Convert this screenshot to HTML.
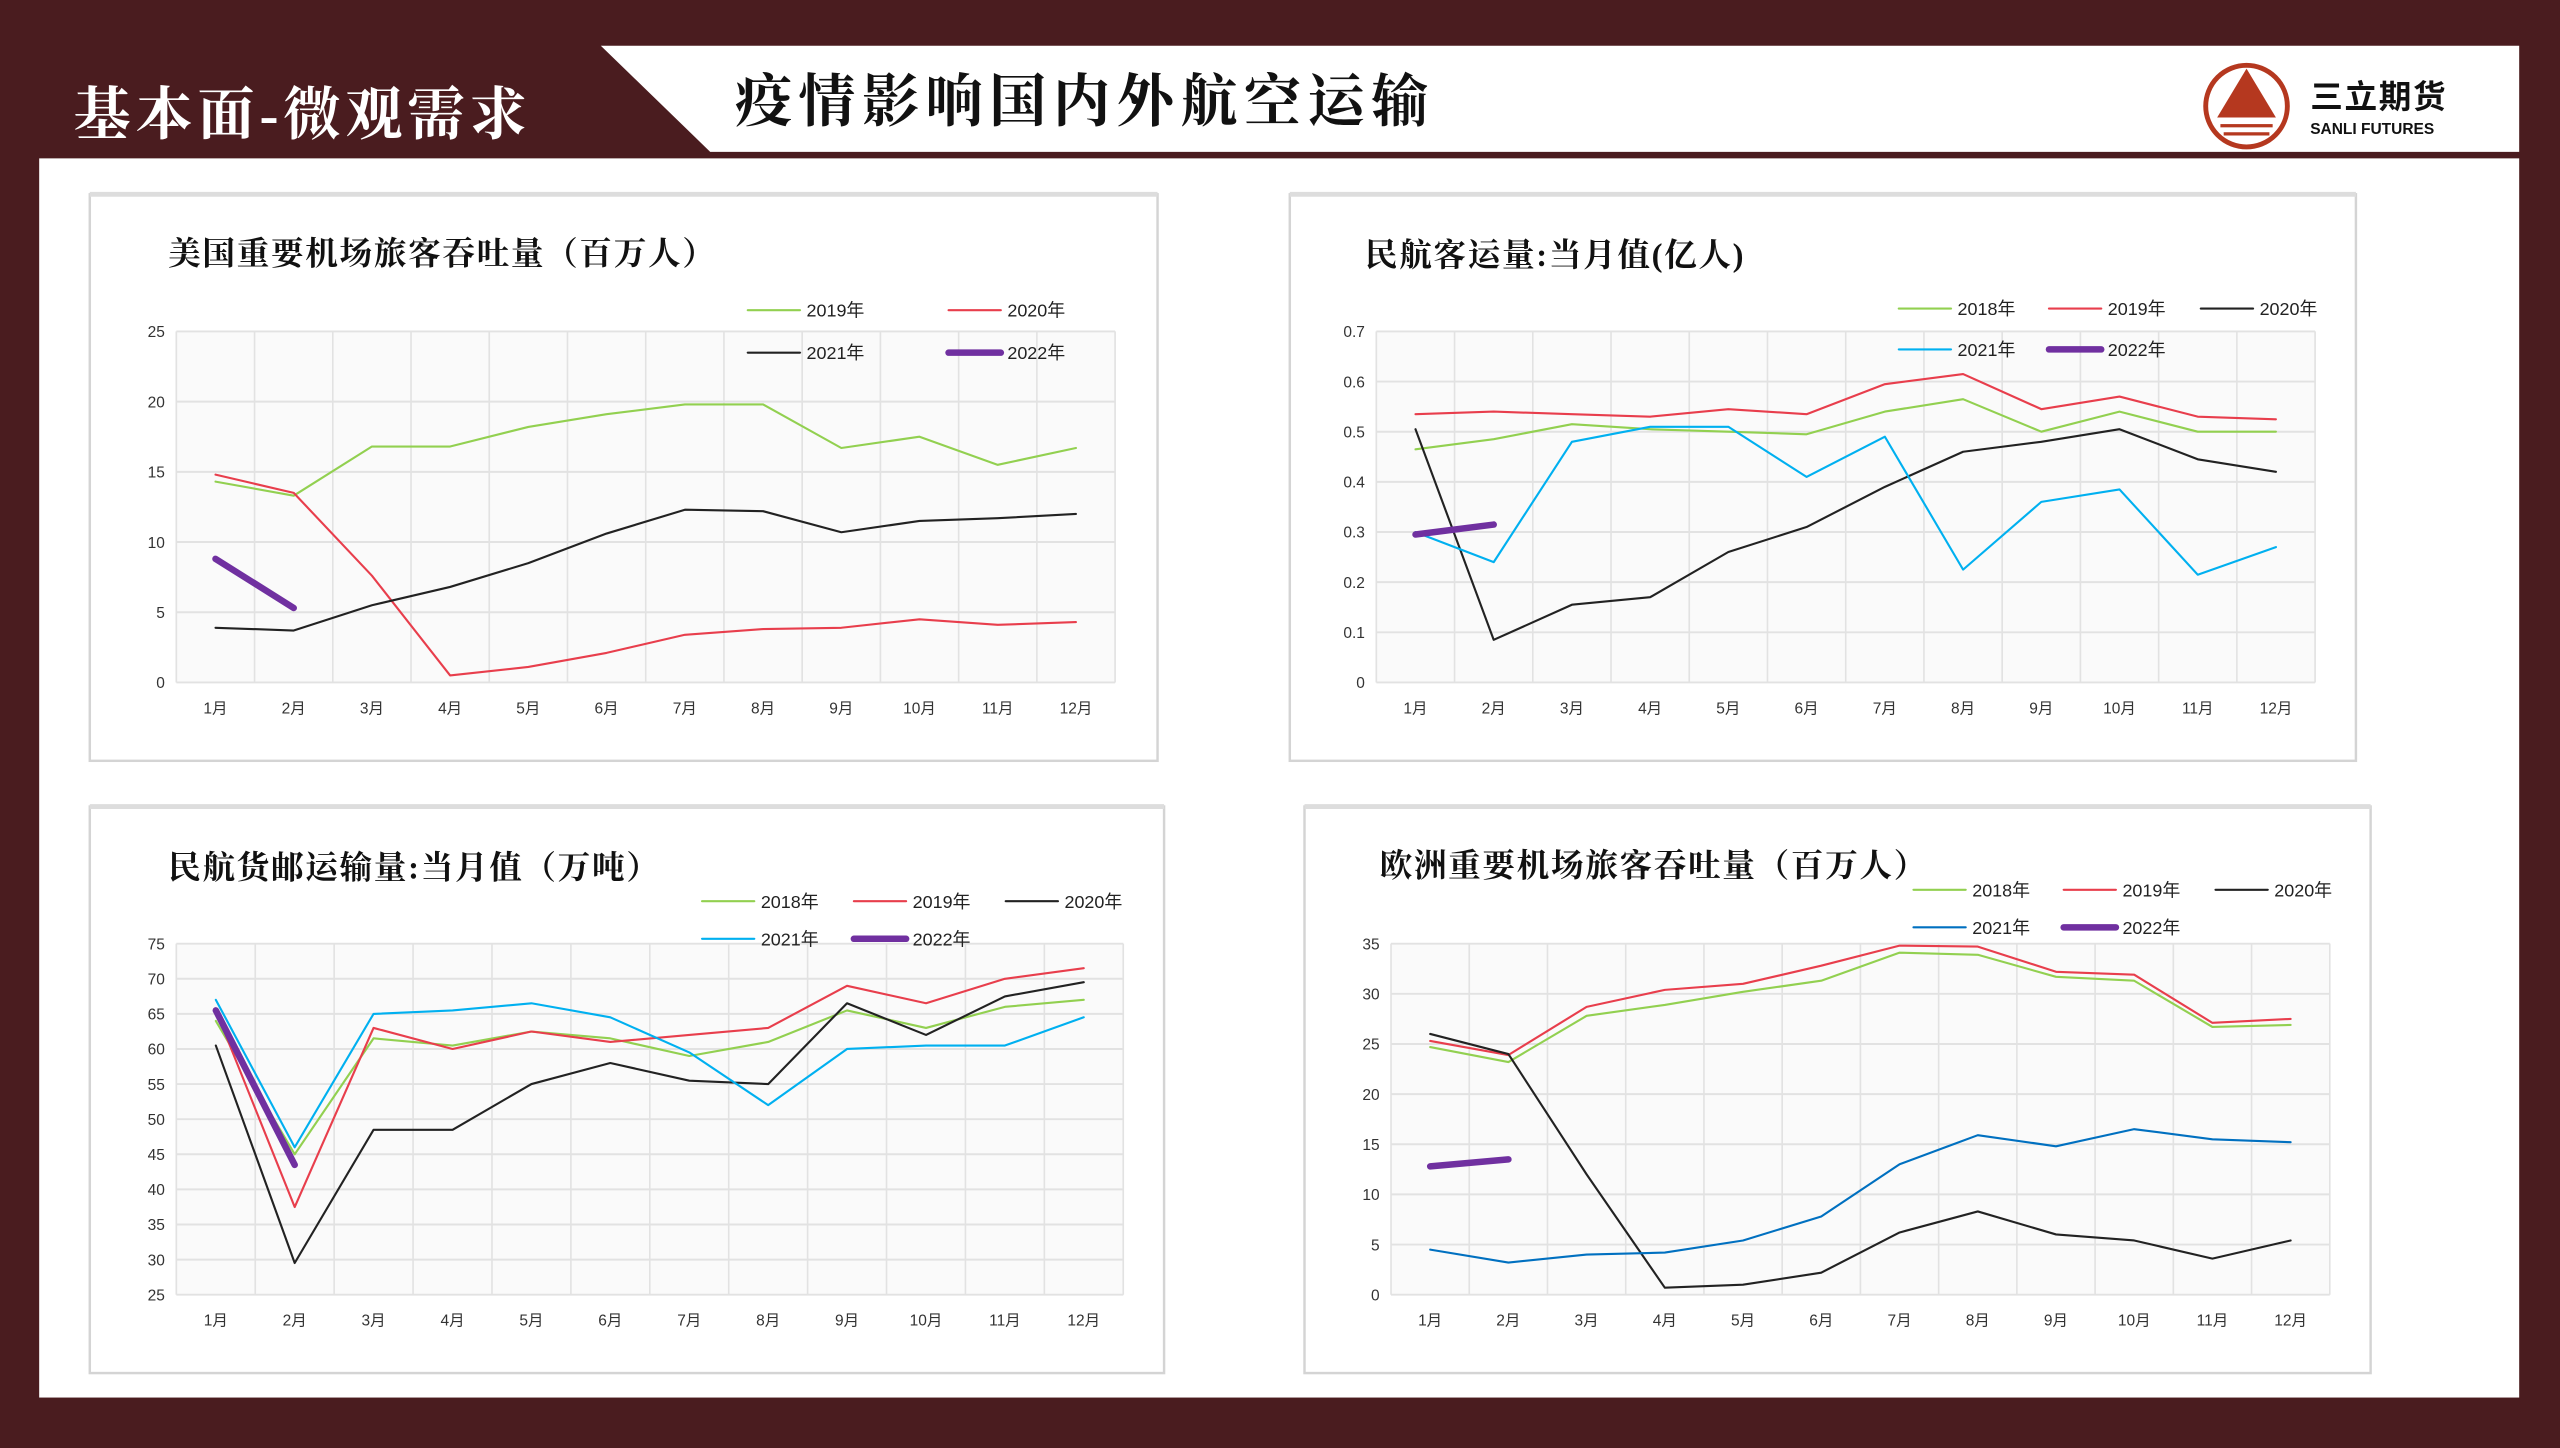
<!DOCTYPE html>
<html><head><meta charset="utf-8">
<style>
html,body{margin:0;padding:0;width:2560px;height:1440px;overflow:hidden;background:#4a1c1f;}
#wrap{position:absolute;left:0;top:0;width:1568px;height:882px;transform:scale(1.632653);transform-origin:0 0;font-family:"Liberation Sans","Noto Sans CJK SC",sans-serif;}
svg text{font-family:"Liberation Sans","Noto Sans CJK SC",sans-serif;}
svg text.sf{font-family:"Liberation Serif","Noto Serif CJK SC",serif;}
</style></head><body>
<div id="wrap">
<svg id="s" width="1568" height="882" xmlns="http://www.w3.org/2000/svg">
<rect width="1568" height="882" fill="#4a1c1f"/>
<polygon points="368,28 1543,28 1543,93 435,93" fill="#fff"/>
<rect x="24" y="97" width="1519" height="759" fill="#fff"/>
<text class="sf" x="45" y="82" font-size="35" fill="#fff" font-weight="bold" letter-spacing="3">基本面-微观需求</text>
<text class="sf" x="450" y="74" font-size="35" fill="#111" font-weight="bold" letter-spacing="4">疫情影响国内外航空运输</text>
<circle cx="1376" cy="65" r="25" fill="none" stroke="#b5381f" stroke-width="3"/>
<polygon points="1376,42 1358,72 1394,72" fill="#b5381f"/>
<rect x="1360" y="76" width="32" height="2" fill="#b5381f"/><rect x="1362" y="81" width="28" height="2" fill="#b5381f"/>
<text x="1415" y="66" font-size="20" font-weight="bold" fill="#111" letter-spacing="1">三立期货</text>
<text x="1415" y="82" font-size="9.5" font-weight="bold" fill="#111">SANLI FUTURES</text>
</svg>
</div>
<script>
var s=document.getElementById('s'),NS='http://www.w3.org/2000/svg';
function el(t,a,txt){var e=document.createElementNS(NS,t);for(var k in a)e.setAttribute(k,a[k]);if(txt!=null)e.textContent=txt;s.appendChild(e);return e;}
var G='#92d050',R='#e83e4c',K='#222',B1='#00b0f0',B2='#0070c0',P='#7030a0';
function chart(c){
 el('rect',{x:c.px,y:c.py+1,width:c.pw,height:c.ph,fill:'#fff',stroke:'#d4d4d4','stroke-width':1.5});
 el('line',{x1:c.px,y1:c.py+1,x2:c.px+c.pw,y2:c.py+1,stroke:'#ddd','stroke-width':3});
 el('text',{x:c.tx,y:c.ty,'font-size':20,'font-weight':'bold',fill:'#111','class':'sf','letter-spacing':1},c.title);
 var x0=c.x0,x1=c.x1,y0=c.y0,y1=c.y1,n=c.ticks.length-1;
 el('rect',{x:x0,y:y0,width:x1-x0,height:y1-y0,fill:'#fafafa'});
 var cw=(x1-x0)/12;
 for(var i=0;i<=12;i++)el('line',{x1:x0+i*cw,y1:y0,x2:x0+i*cw,y2:y1,stroke:'#e2e2e2','stroke-width':1});
 c.ticks.forEach(function(t,i){var y=y1-(y1-y0)*i/n;el('line',{x1:x0,y1:y,x2:x1,y2:y,stroke:'#e2e2e2','stroke-width':1.2});
  el('text',{x:x0-7,y:y+3.5,'font-size':9.5,'text-anchor':'end',fill:'#333'},t);});
 for(var i=0;i<12;i++)el('text',{x:x0+cw*(i+.5),y:y1+19,'font-size':9.5,'text-anchor':'middle',fill:'#333'},(i+1)+'月');
 var lo=c.ticks[0],hi=c.ticks[n];
 c.series.forEach(function(se){var pts=se.d.map(function(v,i){return (x0+cw*(i+.5)).toFixed(1)+','+(y1-(v-lo)/(hi-lo)*(y1-y0)).toFixed(1)}).join(' ');
  el('polyline',{points:pts,fill:'none',stroke:se.c,'stroke-width':se.w||1.3,'stroke-linecap':'round','stroke-linejoin':'round'});
  el('line',{x1:se.lx,y1:se.ly,x2:se.lx+32,y2:se.ly,stroke:se.c,'stroke-width':se.w||1.3,'stroke-linecap':'round'});
  el('text',{x:se.lx+36,y:se.ly+4,'font-size':11,fill:'#222'},se.n);});
}
chart({px:55,py:118,pw:654,ph:347,tx:103,ty:162,title:'美国重要机场旅客吞吐量（百万人）',x0:108,x1:683,y0:203,y1:418,ticks:[0,5,10,15,20,25],series:[
 {n:'2019年',c:G,lx:458,ly:190,d:[14.3,13.3,16.8,16.8,18.2,19.1,19.8,19.8,16.7,17.5,15.5,16.7]},
 {n:'2020年',c:R,lx:581,ly:190,d:[14.8,13.5,7.6,0.5,1.1,2.1,3.4,3.8,3.9,4.5,4.1,4.3]},
 {n:'2021年',c:K,lx:458,ly:216,d:[3.9,3.7,5.5,6.8,8.5,10.6,12.3,12.2,10.7,11.5,11.7,12.0]},
 {n:'2022年',c:P,w:4,lx:581,ly:216,d:[8.8,5.3]}]});
chart({px:790,py:118,pw:653,ph:347,tx:836,ty:163,title:'民航客运量:当月值(亿人)',x0:843,x1:1418,y0:203,y1:418,ticks:['0','0.1','0.2','0.3','0.4','0.5','0.6','0.7'],series:[
 {n:'2018年',c:G,lx:1163,ly:189,d:[.465,.485,.515,.505,.5,.495,.54,.565,.5,.54,.5,.5]},
 {n:'2019年',c:R,lx:1255,ly:189,d:[.535,.54,.535,.53,.545,.535,.595,.615,.545,.57,.53,.525]},
 {n:'2020年',c:K,lx:1348,ly:189,d:[.505,.085,.155,.17,.26,.31,.39,.46,.48,.505,.445,.42]},
 {n:'2021年',c:B1,lx:1163,ly:214,d:[.3,.24,.48,.51,.51,.41,.49,.225,.36,.385,.215,.27]},
 {n:'2022年',c:P,w:4,lx:1255,ly:214,d:[.295,.315]}]});
chart({px:55,py:493,pw:658,ph:347,tx:103,ty:538,title:'民航货邮运输量:当月值（万吨）',x0:108,x1:688,y0:578,y1:793,ticks:[25,30,35,40,45,50,55,60,65,70,75],series:[
 {n:'2018年',c:G,lx:430,ly:552,d:[64,45,61.5,60.5,62.5,61.5,59,61,65.5,63,66,67]},
 {n:'2019年',c:R,lx:523,ly:552,d:[65.5,37.5,63,60,62.5,61,62,63,69,66.5,70,71.5]},
 {n:'2020年',c:K,lx:616,ly:552,d:[60.5,29.5,48.5,48.5,55,58,55.5,55,66.5,62,67.5,69.5]},
 {n:'2021年',c:B1,lx:430,ly:575,d:[67,46,65,65.5,66.5,64.5,59.5,52,60,60.5,60.5,64.5]},
 {n:'2022年',c:P,w:4,lx:523,ly:575,d:[65.5,43.5]}]});
chart({px:799,py:493,pw:653,ph:347,tx:845,ty:537,title:'欧洲重要机场旅客吞吐量（百万人）',x0:852,x1:1427,y0:578,y1:793,ticks:[0,5,10,15,20,25,30,35],series:[
 {n:'2018年',c:G,lx:1172,ly:545,d:[24.7,23.2,27.8,28.9,30.2,31.3,34.1,33.9,31.7,31.3,26.7,26.9]},
 {n:'2019年',c:R,lx:1264,ly:545,d:[25.3,23.9,28.7,30.4,31,32.8,34.8,34.7,32.2,31.9,27.1,27.5]},
 {n:'2020年',c:K,lx:1357,ly:545,d:[26,24,12,0.7,1,2.2,6.2,8.3,6,5.4,3.6,5.4]},
 {n:'2021年',c:B2,lx:1172,ly:568,d:[4.5,3.2,4,4.2,5.4,7.8,13,15.9,14.8,16.5,15.5,15.2]},
 {n:'2022年',c:P,w:4,lx:1264,ly:568,d:[12.8,13.5]}]});
</script>
</body></html>
